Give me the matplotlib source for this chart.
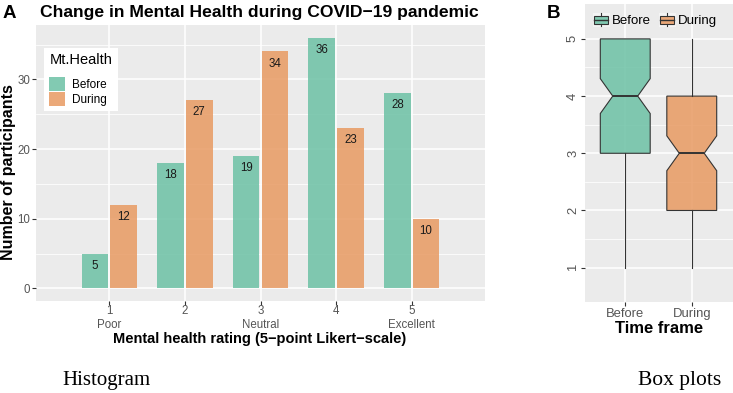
import numpy as np
import matplotlib
matplotlib.use('Agg')
import matplotlib.pyplot as plt
from matplotlib.patches import Patch, Rectangle
from matplotlib.lines import Line2D
from matplotlib.legend_handler import HandlerBase
from matplotlib.ticker import FixedLocator

# ---------------- data ----------------
ratings = [1, 2, 3, 4, 5]
rating_labels = ['1\nPoor', '2', '3\nNeutral', '4', '5\nExcellent']
series = ['Before', 'During']
before_counts = [5, 18, 19, 36, 28]
during_counts = [12, 27, 34, 23, 10]
title_a = 'Change in Mental Health during COVID\u221219 pandemic'
xlabel_a = 'Mental health rating (5\u2212point Likert\u2212scale)'
ylabel_a = 'Number of participants'
legend_title_a = 'Mt.Health'
xlabel_b = 'Time frame'
yticks_a = [0, 10, 20, 30]
yticks_b = [1, 2, 3, 4, 5]

colors = {'Before': '#6cc1a5', 'During': '#e89a62'}
ALPHA = 0.85

plt.rcParams['font.family'] = ['Liberation Sans', 'DejaVu Sans']

W, H = 733, 393
fig = plt.figure(figsize=(W / 100, H / 100), dpi=100)


def px_axes(l, t, r, b):
    return fig.add_axes([l / W, 1 - b / H, (r - l) / W, (b - t) / H])


def style(ax, labelsize):
    ax.set_facecolor('#ebebeb')
    for s in ax.spines.values():
        s.set_visible(False)
    ax.set_axisbelow(True)
    ax.grid(which='major', color='white', lw=1.1)
    ax.tick_params(which='major', length=2.8, width=0.8, color='#333333',
                   labelcolor='#555555', labelsize=labelsize, pad=1.5)
    ax.tick_params(which='minor', length=0)


# ---------------- panel A ----------------
axA = px_axes(36, 25, 485, 301)
style(axA, 8.3)
axA.tick_params(axis='x', pad=0)
x = np.array(ratings, dtype=float)
off, bw = 0.19, 0.35
axA.bar(x - off, before_counts, width=bw, color=colors['Before'],
        alpha=ALPHA, zorder=2)
axA.bar(x + off, during_counts, width=bw, color=colors['During'],
        alpha=ALPHA, zorder=2)
for xi, v in zip(x, before_counts):
    axA.text(xi - off, v - 1.75, str(v), ha='center', va='center',
             fontsize=8.3, color='#1a1a1a', zorder=3)
for xi, v in zip(x, during_counts):
    axA.text(xi + off, v - 1.75, str(v), ha='center', va='center',
             fontsize=8.3, color='#1a1a1a', zorder=3)
axA.set_xlim(0.03, 5.97)
axA.set_ylim(-1.8, 37.8)
axA.set_xticks(ratings)
axA.set_xticklabels(rating_labels, linespacing=1.18)
axA.set_yticks(yticks_a)
axA.yaxis.set_minor_locator(FixedLocator([5, 15, 25, 35]))
axA.grid(which='minor', axis='y', color='white', lw=0.55)
axA.grid(which='major', axis='x', color='white', lw=1.1)

handles = [Patch(facecolor=colors[s], alpha=ALPHA, edgecolor='none')
           for s in series]
leg = axA.legend(handles, series, title=legend_title_a, loc='upper left',
                 bbox_to_anchor=(0.018, 0.917), frameon=True, fancybox=False,
                 edgecolor='white', facecolor='white', framealpha=1,
                 fontsize=8.5, title_fontsize=10.5, handlelength=1.35,
                 handleheight=1.45, borderpad=0.45, labelspacing=0.08,
                 handletextpad=0.6, borderaxespad=0, alignment='left')
leg.get_frame().set_linewidth(0)
leg._legend_box.sep = 7

fig.text(9 / W, 1 - 172 / H, ylabel_a, rotation=90, ha='center', va='center',
         fontsize=11.5, fontweight='bold')
fig.text(260 / W, 1 - 339 / H, xlabel_a, ha='center', va='center',
         fontsize=10.5, fontweight='bold')
fig.text(40 / W, 1 - 13 / H, title_a, ha='left', va='center',
         fontsize=12.6, fontweight='bold')
fig.text(3 / W, 1 - 13 / H, 'A', ha='left', va='center',
         fontsize=13.5, fontweight='bold')

# ---------------- panel B ----------------
axB = px_axes(585, 4, 733, 301.7)
style(axB, 9.4)
before_raw = np.repeat(ratings, before_counts)
during_raw = np.repeat(ratings, during_counts)
bp = axB.boxplot([before_raw, during_raw], positions=[1, 2], widths=0.75,
                 notch=True, patch_artist=True, showcaps=False,
                 showfliers=False, whis=1.5,
                 medianprops=dict(color='#333333', lw=1.4),
                 whiskerprops=dict(color='#333333', lw=0.8),
                 boxprops=dict(edgecolor='#333333', lw=0.8))
for patch, s in zip(bp['boxes'], series):
    r, g, b = matplotlib.colors.to_rgb(colors[s])
    patch.set_facecolor((r, g, b, ALPHA))
axB.set_xlim(0.395, 2.62)
axB.set_ylim(0.405, 5.61)
axB.set_xticks([1, 2])
axB.set_xticklabels(series)
axB.set_yticks(yticks_b)
axB.set_yticklabels([str(v) for v in yticks_b], rotation=90, va='center')
axB.yaxis.set_minor_locator(FixedLocator([1.5, 2.5, 3.5, 4.5]))
axB.grid(which='minor', axis='y', color='white', lw=0.55)


class BoxHandler(HandlerBase):
    def create_artists(self, legend, orig_handle, xdescent, ydescent,
                       width, height, fontsize, trans):
        x0, y0 = -xdescent, -ydescent
        bg = Rectangle((x0, y0), width, height, facecolor='#f4f4f4',
                       edgecolor='none', transform=trans)
        bx = Rectangle((x0 + 0.1 * width, y0 + 0.22 * height), 0.8 * width,
                       0.56 * height, facecolor=orig_handle.get_facecolor(),
                       edgecolor='#333333', lw=0.8, transform=trans)
        med = Line2D([x0 + 0.1 * width, x0 + 0.9 * width],
                     [y0 + 0.5 * height] * 2, color='#333333', lw=1.0,
                     transform=trans)
        wt = Line2D([x0 + 0.5 * width] * 2,
                    [y0 + 0.78 * height, y0 + 0.95 * height],
                    color='#333333', lw=0.8, transform=trans)
        wb = Line2D([x0 + 0.5 * width] * 2,
                    [y0 + 0.05 * height, y0 + 0.22 * height],
                    color='#333333', lw=0.8, transform=trans)
        return [bg, bx, med, wt, wb]


bh = [Patch(facecolor=colors[s], alpha=ALPHA) for s in series]
axB.legend(bh, series, handler_map={Patch: BoxHandler()}, ncol=2,
           loc='center left', bbox_to_anchor=(0.052, 0.946), frameon=False,
           fontsize=9.5, handlelength=1.3, handleheight=1.3,
           handletextpad=0.15, columnspacing=0.6, borderaxespad=0,
           borderpad=0)
axB.set_xlabel(xlabel_b, fontsize=12, fontweight='bold', labelpad=1)
fig.text(547 / W, 1 - 13 / H, 'B', ha='left', va='center',
         fontsize=13.5, fontweight='bold')

# ---------------- captions ----------------
fig.text(62 / W, 1 - 381 / H, 'Histogram', ha='left', va='center',
         fontsize=15, family=['Liberation Serif', 'DejaVu Serif'])
fig.text(638 / W, 1 - 381 / H, 'Box plots', ha='left', va='center',
         fontsize=15.5, family=['Liberation Serif', 'DejaVu Serif'])

fig.savefig('out.png', dpi=100)
